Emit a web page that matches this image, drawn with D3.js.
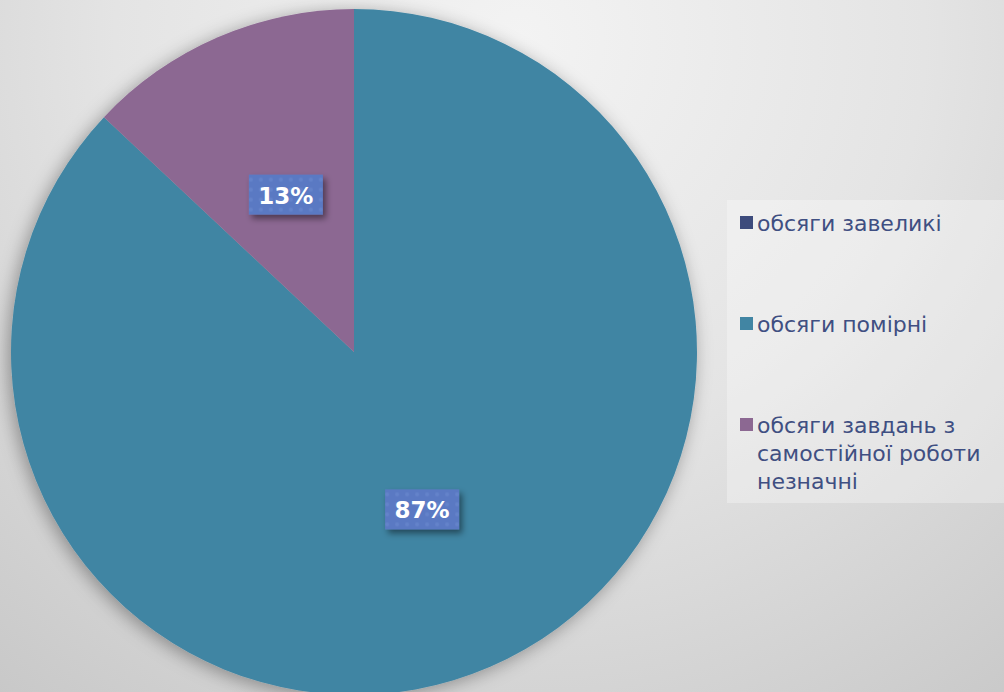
<!DOCTYPE html>
<html>
<head>
<meta charset="utf-8">
<script src="https://cdn.jsdelivr.net/npm/d3@7"></script>
<style>
  html, body { margin: 0; padding: 0; overflow: hidden; }
  body { width: 1004px; height: 692px; }
</style>
</head>
<body>
<div id="chart"></div>
<script>
// chart data
const categories = ["обсяги завеликі", "обсяги помірні", "обсяги завдань з самостійної роботи незначні"];
const legendLines = [["обсяги завеликі"], ["обсяги помірні"], ["обсяги завдань з", "самостійної роботи", "незначні"]];
const values = [0, 87, 13];
const colors = ["#3d4b7c", "#4185a3", "#8c6892"];

const width = 1004, height = 692;
const cx = 354, cy = 352, radius = 343;

const svg = d3.select("#chart")
  .append("svg")
    .attr("width", width)
    .attr("height", height)

const defs = svg.append("defs")

// background gradient
const bg = defs.append("radialGradient")
  .attr("id", "bg")
  .attr("gradientUnits", "userSpaceOnUse")
  .attr("cx", 520).attr("cy", 40).attr("r", 900)
bg.append("stop").attr("offset", "0%").attr("stop-color", "#f3f3f3")
bg.append("stop").attr("offset", "45%").attr("stop-color", "#e4e4e4")
bg.append("stop").attr("offset", "100%").attr("stop-color", "#c4c4c4")

// soft shadow round the pie
const shadow = defs.append("filter").attr("id", "pieShadow")
  .attr("x", "-10%").attr("y", "-10%").attr("width", "120%").attr("height", "120%")
shadow.append("feDropShadow")
  .attr("dx", -3).attr("dy", 3).attr("stdDeviation", 9)
  .attr("flood-color", "#000").attr("flood-opacity", 0.35)

const boxShadow = defs.append("filter").attr("id", "boxShadow")
  .attr("x", "-20%").attr("y", "-20%").attr("width", "150%").attr("height", "160%")
boxShadow.append("feDropShadow")
  .attr("dx", 3).attr("dy", 4).attr("stdDeviation", 3)
  .attr("flood-color", "#000").attr("flood-opacity", 0.45)

// dotted pattern for label boxes
const pat = defs.append("pattern").attr("id", "dots")
  .attr("patternUnits", "userSpaceOnUse").attr("width", 10).attr("height", 10)
pat.append("rect").attr("width", 10).attr("height", 10).attr("fill", "#5a79c3")
pat.append("circle").attr("cx", 5).attr("cy", 5).attr("r", 2).attr("fill", "#6483ca")

svg.append("rect")
  .attr("width", width).attr("height", height)
  .attr("fill", "url(#bg)")

// pie
const pie = d3.pie().sort(null).value(d => d)
const arcs = pie(values)
const arc = d3.arc().innerRadius(0).outerRadius(radius)
const labelArc = d3.arc().innerRadius(radius * 0.5).outerRadius(radius * 0.5)

const g = svg.append("g")
  .attr("transform", `translate(${cx},${cy})`)

g.append("g")
  .attr("filter", "url(#pieShadow)")
  .selectAll("path")
  .data(arcs)
  .enter()
  .append("path")
    .attr("d", arc)
    .style("fill", (d, i) => colors[i])

// data labels
const labels = g.selectAll(".lbl")
  .data(arcs.filter(d => d.value > 0))
  .enter()
  .append("g")
    .attr("class", "lbl")
    .attr("transform", d => `translate(${labelArc.centroid(d)})`)

labels.append("rect")
  .attr("x", -37).attr("y", -20)
  .attr("width", 74).attr("height", 40)
  .attr("fill", "url(#dots)")
  .attr("filter", "url(#boxShadow)")

labels.append("text")
  .attr("text-anchor", "middle")
  .attr("dominant-baseline", "central")
  .attr("y", 1)
  .style("font-family", "'DejaVu Sans', sans-serif")
  .style("font-weight", "bold")
  .style("font-size", "23px")
  .style("fill", "white")
  .text(d => d.value + "%")

// legend
const legend = svg.append("g")

legend.append("rect")
  .attr("x", 727).attr("y", 200)
  .attr("width", 277).attr("height", 303)
  .attr("fill", "#ffffff").attr("fill-opacity", 0.3)

const legendY = d3.scalePoint()
  .domain(categories)
  .range([223, 425])

const items = legend.selectAll(".item")
  .data(categories)
  .enter()
  .append("g")
    .attr("class", "item")
    .attr("transform", d => `translate(740,${legendY(d)})`)

items.append("rect")
  .attr("x", 0).attr("y", -7)
  .attr("width", 13).attr("height", 13)
  .attr("fill", (d, i) => colors[i])

items.append("text")
  .style("font-family", "'DejaVu Sans', sans-serif")
  .style("font-size", "22px")
  .style("fill", "#3f4f82")
  .each(function(d, i) {
    d3.select(this).selectAll("tspan")
      .data(legendLines[i])
      .enter()
      .append("tspan")
        .attr("x", 17)
        .attr("y", (t, j) => 8 + j * 28)
        .text(t => t)
  })
</script>
</body>
</html>
